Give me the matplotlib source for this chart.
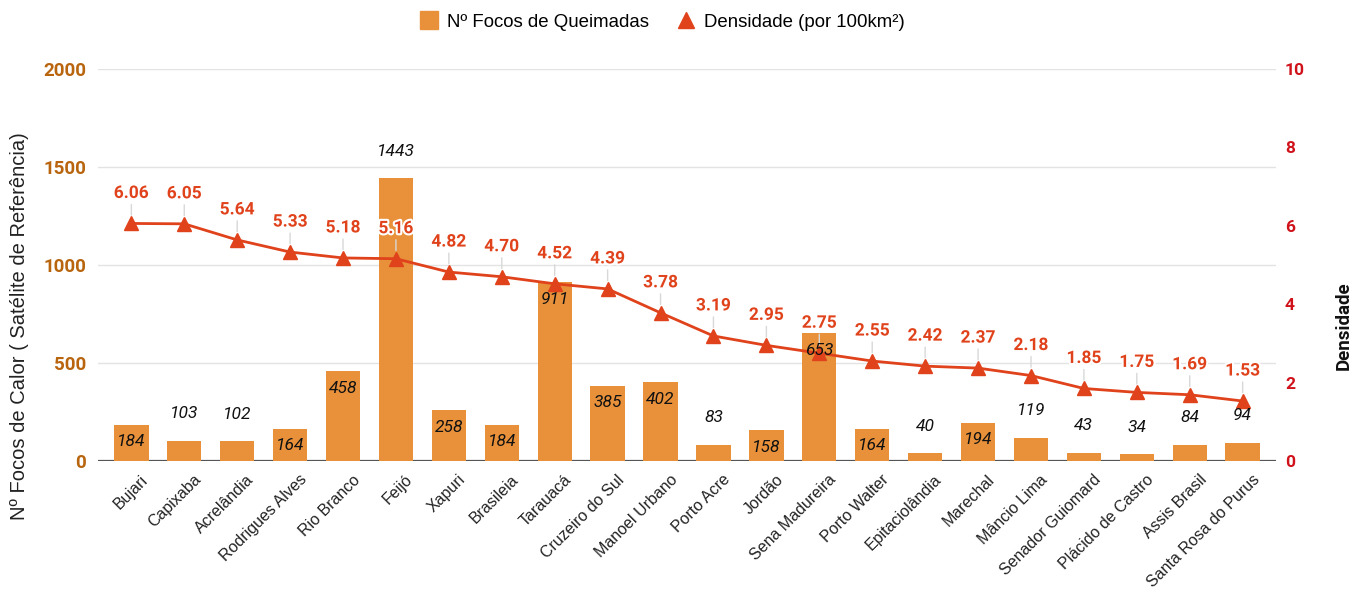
import matplotlib
matplotlib.use("Agg")
import matplotlib.pyplot as plt
import matplotlib.patheffects as pe
import matplotlib.transforms as mtransforms
from matplotlib.lines import Line2D
import numpy as np

municipios = ["Bujari", "Capixaba", "Acrelândia", "Rodrigues Alves", "Rio Branco", "Feijó",
              "Xapuri", "Brasileia", "Tarauacá", "Cruzeiro do Sul", "Manoel Urbano", "Porto Acre",
              "Jordão", "Sena Madureira", "Porto Walter", "Epitaciolândia", "Marechal",
              "Mâncio Lima", "Senador Guiomard", "Plácido de Castro", "Assis Brasil",
              "Santa Rosa do Purus"]
focos = [184, 103, 102, 164, 458, 1443, 258, 184, 911, 385, 402, 83, 158, 653, 164, 40, 194,
         119, 43, 34, 84, 94]
densidade = [6.06, 6.05, 5.64, 5.33, 5.18, 5.16, 4.82, 4.70, 4.52, 4.39, 3.78, 3.19, 2.95,
             2.75, 2.55, 2.42, 2.37, 2.18, 1.85, 1.75, 1.69, 1.53]
left_ticks = [0, 500, 1000, 1500, 2000]
right_ticks = [0, 2, 4, 6, 8, 10]

BAR = "#E8913A"
LINE = "#E0421B"
LEFT_TICK = "#B8650E"
RIGHT_TICK = "#D0121B"
NUM_FONT = "Roboto"
TXT_FONT = "Liberation Sans"

fig = plt.figure(figsize=(13.54, 5.91), dpi=100)
ax = fig.add_axes([98 / 1354, 1 - 461 / 591, (1276 - 98) / 1354, (461 - 69) / 591])
ax2 = ax.twinx()

x = np.arange(len(municipios))
ax.bar(x, focos, width=0.65, color=BAR, zorder=3)
ax.set_ylim(0, 2000)
ax.set_xlim(-0.63, len(municipios) - 1 + 0.63)
ax.set_yticks(left_ticks)
ax.grid(axis="y", color="#E3E3E3", lw=1, zorder=0)
ax.axhline(0, color="#555555", lw=1.6, zorder=2)
for s in ax.spines.values():
    s.set_visible(False)
for s in ax2.spines.values():
    s.set_visible(False)
ax.tick_params(axis="y", length=0, pad=8.5, labelcolor=LEFT_TICK, labelsize=13.5)
for t in ax.get_yticklabels():
    t.set_fontfamily(NUM_FONT)
    t.set_fontweight("bold")
ax.set_xticks(x)
ax.set_xticklabels(municipios, rotation=45, ha="right", rotation_mode="anchor",
                   fontsize=11.5, fontfamily=TXT_FONT, color="#222222")
ax.tick_params(axis="x", length=0, pad=8)
shift = mtransforms.ScaledTranslation(9 / 100, 0, fig.dpi_scale_trans)
for t in ax.get_xticklabels():
    t.set_transform(t.get_transform() + shift)

# density line
ax2.set_ylim(0, 10)
ax2.set_yticks(right_ticks)
ax2.plot(x, densidade, color=LINE, lw=2, marker="^", markersize=10, zorder=5)
ax2.tick_params(axis="y", length=0, pad=6.5, labelcolor=RIGHT_TICK, labelsize=12.5)
for t in ax2.get_yticklabels():
    t.set_fontfamily(NUM_FONT)
    t.set_fontweight("bold")

# bar labels (above the line)
imax = int(np.argmax(focos))
for i, v in enumerate(focos):
    inside = v >= 150 and i != imax
    off = -17 if inside else 27
    ax2.annotate(str(v), (i, v), xycoords=ax.transData, xytext=(0, off),
                 textcoords="offset pixels", ha="center", va="center", fontsize=12.5,
                 style="italic", fontfamily=NUM_FONT, color="#111111", zorder=6)

for i, d in enumerate(densidade):
    ax2.annotate("", xy=(i, d), xytext=(0, 19), textcoords="offset pixels",
                 arrowprops=dict(arrowstyle="-", color="#D8D8D8", lw=1, shrinkA=0, shrinkB=6),
                 zorder=4)
    ax2.annotate(f"{d:.2f}", (i, d), xytext=(0, 30), textcoords="offset pixels",
                 ha="center", va="center", fontsize=12.5, fontweight="bold",
                 fontfamily=NUM_FONT, color=LINE, zorder=7,
                 path_effects=[pe.withStroke(linewidth=3, foreground="white")])

ax.set_zorder(1)
ax2.set_zorder(2)
ax.patch.set_visible(False)

fig.text(20 / 1354, 1 - 326 / 591, "Nº Focos de Calor ( Satélite de Referência)", rotation=90,
         ha="center", va="center", fontsize=14.5, fontfamily=TXT_FONT, color="#222222")
fig.text(1344 / 1354, 1 - 326 / 591, "Densidade", rotation=90, ha="center", va="center",
         fontsize=13.5, fontweight="bold", fontfamily=NUM_FONT, color="#111111")

handles = [Line2D([0], [0], marker="s", color="none", markerfacecolor=BAR, markeredgecolor=BAR,
                  markersize=12.5, label="Nº Focos de Queimadas"),
           Line2D([0], [0], marker="^", color="none", markerfacecolor=LINE, markeredgecolor=LINE,
                  markersize=11, label="Densidade (por 100km²)")]
fig.legend(handles=handles, loc="center", bbox_to_anchor=(661 / 1354, 1 - 22 / 591), ncol=2,
           frameon=False, prop={"family": TXT_FONT, "size": 13.4}, handletextpad=0.35,
           columnspacing=1.4, handlelength=1.2)

fig.savefig("out.png", dpi=100)
